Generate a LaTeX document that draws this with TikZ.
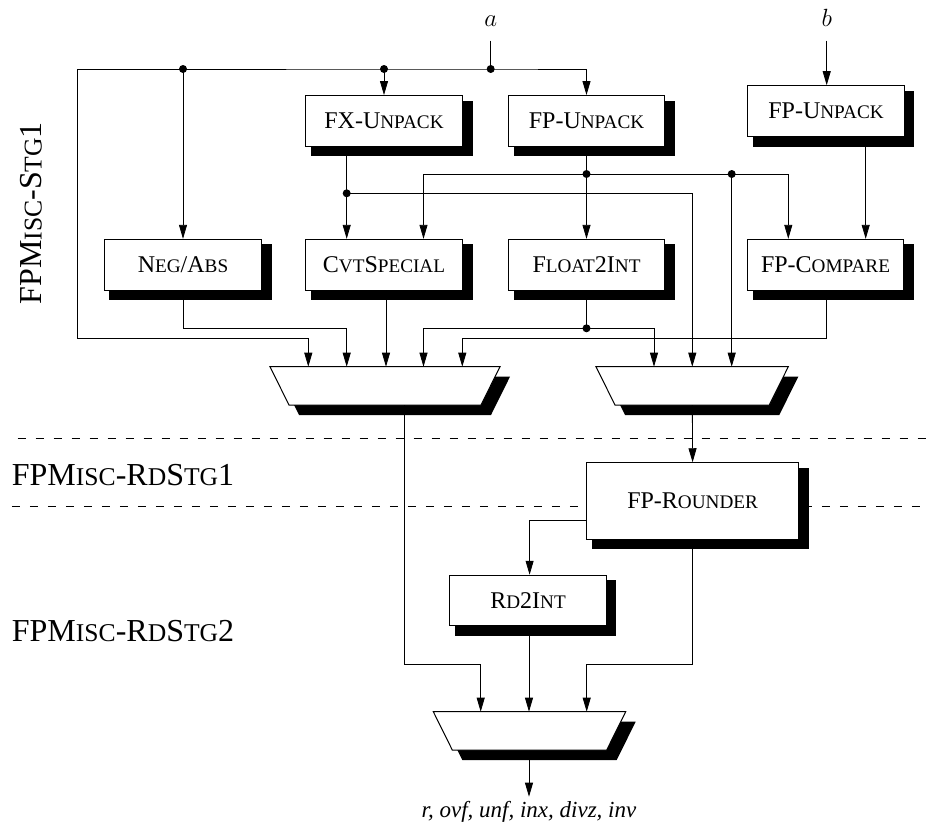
\documentclass[tikz,border=0pt]{standalone}
\usepackage{fontspec}
\setmainfont{Liberation Serif}
\usetikzlibrary{arrows.meta}
\newcommand\smc[1]{{\fontsize{19.2}{19.2}\selectfont #1}}
\newcommand\lsm[1]{{\fontsize{25.6}{25.6}\selectfont #1}}
\newcommand\fpbox[6]{%
  \fill[black] (#2-#4/2+5,#3-#5/2+5) rectangle (#2+#4/2+10,#3+#5/2+10);
  \node[boxst, minimum width={#4}, minimum height={#5}] (#1) at (#2,#3) {#6};}
\newcommand\muxdraw[4]{%
  \fill[black] (#2+10,#4+10) -- (#3+10,#4+10) -- (#3-19+10,#4+48.3) -- (#2+19+10,#4+48.3) -- cycle;
  \draw[muxst] (#2,#4) -- (#3,#4) -- (#3-19,#4+38.3) -- (#2+19,#4+38.3) -- cycle;
  \node[inner sep=0pt, outer sep=0pt, minimum width={#3-#2}, minimum height=38.3] (#1) at ({(#2+#3)/2},#4+19.15) {};}
\begin{document}
\begin{tikzpicture}[x=1pt,y=-1pt,
  boxst/.style={draw, fill=white, line width=1pt, inner sep=0pt,
    font=\fontsize{24}{24}\selectfont},
  muxst/.style={draw, fill=white, line width=1pt},
  wire/.style={line width=0.8pt},
  arr/.style={wire, -{Triangle[length=14pt,width=8pt]}},
  dot/.style={fill=black},
  lab/.style={font=\fontsize{23}{23}\selectfont},
  inlab/.style={font=\fontsize{27}{27}\selectfont},
  stage/.style={font=\fontsize{32}{32}\selectfont, inner sep=0pt},
  sep/.style={line width=0.8pt, dash pattern=on 8pt off 10pt}]
\useasboundingbox (0,0) rectangle (927,831);

% stage separators
\draw[sep] (17.7,438.3) -- (927,438.3);
\draw[sep] (11.8,506) -- (927,506);

% stage labels
\node[stage, rotate=90, anchor=base] (s1) at (41.7,213.3) {FPM\lsm{ISC}-S\lsm{TG}1};
\node[stage, anchor=base west] (s2) at (11.7,485.7) {FPM\lsm{ISC}-R\lsm{D}S\lsm{TG}1};
\node[stage, anchor=base west] (s3) at (11.7,641.5) {FPM\lsm{ISC}-R\lsm{D}S\lsm{TG}2};

% inputs
\node[inlab, inner sep=0pt, outer ysep=14.7pt, anchor=south] (a) at (490.7,40.7) {$a$};
\node[inlab, inner sep=0pt, outer ysep=14.7pt, anchor=south] (b) at (826.7,40.7) {$b$};

% junction and pin coordinates
\coordinate (cTL) at (77.3,69);
\coordinate (jneg) at (183,69);
\coordinate (jfx) at (384,69);
\coordinate (ja) at (490.7,69);
\coordinate (jfx2) at (346.7,193.3);
\coordinate (jfp1) at (586.5,174);
\coordinate (jfp2) at (731.7,174);
\coordinate (jf2i) at (586.5,328.3);
\coordinate (m1i1) at (308.3,366.7);
\coordinate (m1i2) at (346.7,366.7);
\coordinate (m1i3) at (386,366.7);
\coordinate (m1i4) at (423.5,366.7);
\coordinate (m1i5) at (462.3,366.7);
\coordinate (m2i1) at (654,366.7);
\coordinate (m2i2) at (692.3,366.7);
\coordinate (m2i3) at (731.7,366.7);
\coordinate (m1o) at (404,405);
\coordinate (m2o) at (692.3,405);
\coordinate (m3i1) at (480.7,711.7);
\coordinate (m3i2) at (529,711.7);
\coordinate (m3i3) at (586.7,711.7);
\coordinate (m3o) at (529,750.7);
\coordinate (rout) at (529,796.7);

% boxes
\fpbox{fxu}{384}{120.8}{157}{50.5}{FX-U\smc{NPACK}}
\fpbox{fpua}{586.5}{120.8}{156}{50.5}{FP-U\smc{NPACK}}
\fpbox{fpub}{826}{111.2}{156.7}{51}{FP-U\smc{NPACK}}
\fpbox{neg}{183}{264.7}{157.4}{50.7}{N\smc{EG}/A\smc{BS}}
\fpbox{cvt}{384}{264.7}{157}{50.7}{C\smc{VT}S\smc{PECIAL}}
\fpbox{f2i}{586.5}{264.7}{156}{50.7}{F\smc{LOAT}2I\smc{NT}}
\fpbox{cmp}{825.5}{264.7}{156}{50.7}{FP-C\smc{OMPARE}}

% muxes
\muxdraw{mux1}{270}{500}{366.7}
\muxdraw{mux2}{596}{788.3}{366.7}
\muxdraw{mux3}{433.3}{625.7}{711.7}

% first stage wiring
\draw[wire] (a.south) -- (ja);
\draw[arr] (cTL) -- (ja) -| (fpua.north);
\draw[arr] (jneg) -- (neg.north);
\draw[arr] (jfx) -- (fxu.north);
\draw[arr] (cTL) |- (m1i1 |- 0,338.3) -- (m1i1);
\draw[arr] (b.south) -- (fpub.north -| b.south);
\draw[arr] (fpub.south -| 865.7,0) -- (cmp.north -| 865.7,0);

\draw[wire] (fxu.south -| jfx2) -- (jfx2);
\draw[arr] (jfx2) -- (cvt.north -| jfx2);
\draw[arr] (jfx2) -| (m2i2);

\draw[wire] (fpua.south) -- (jfp1);
\draw[arr] (jfp1) -- (f2i.north);
\draw[arr] (jfp1) -| (cvt.north -| m1i4);
\draw[arr] (jfp1) -| (cmp.north -| 788.3,0);
\draw[arr] (jfp2) -- (m2i3);

\draw[arr] (neg.south) |- (m1i2 |- 0,328.3) -- (m1i2);
\draw[arr] (cvt.south -| m1i3) -- (m1i3);
\draw[wire] (f2i.south) -- (jf2i);
\draw[arr] (jf2i) -| (m1i4);
\draw[arr] (jf2i) -| (m2i1);
\draw[arr] (cmp.south -| 826.7,0) |- (m1i5 |- 0,338.3) -- (m1i5);

% round stages
\fpbox{rnd}{692.6}{501}{211.8}{76.5}{FP-R\smc{OUNDER}}
\fpbox{rd2}{528}{600.5}{156.5}{50.5}{R\smc{D}2I\smc{NT}}

\draw[arr] (m2o) -- (rnd.north);
\draw[arr] (rnd.west |- 0,520.7) -| (rd2.north -| 529.6,0);
\draw[arr] (m1o) |- (m3i1 |- 0,664) -- (m3i1);
\draw[arr] (rd2.south -| m3i2) -- (m3i2);
\draw[arr] (rnd.south -| m2o) |- (m3i3 |- 0,664) -- (m3i3);
\draw[arr] (m3o) -- (rout);

% dots
\foreach \p in {jneg,jfx,ja,jfx2,jfp1,jfp2,jf2i} \fill[dot] (\p) circle (4pt);

\node[lab, anchor=base, inner sep=0pt] (outl) at (529,817) {\itshape r, ovf, unf, inx, divz, inv};
\end{tikzpicture}
\end{document}
